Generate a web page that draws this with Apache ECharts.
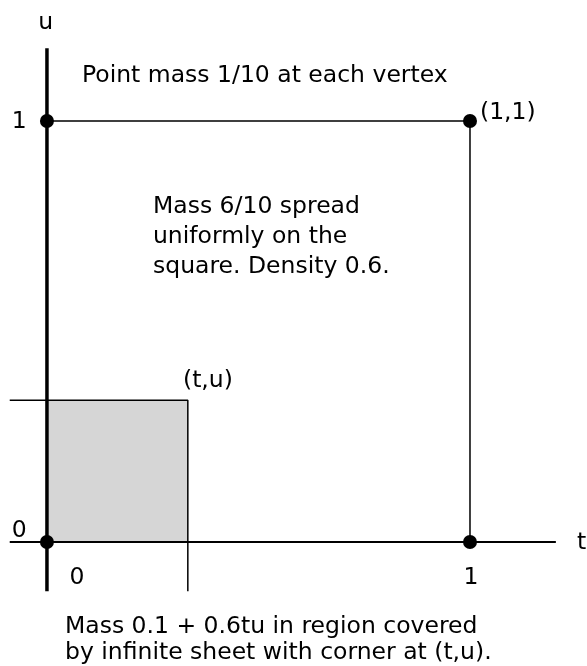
<!doctype html>
<html lang="en">
<head>
	<meta charset="UTF-8">
	<title>Mass on the unit square</title>
	<script src="https://cdn.jsdelivr.net/npm/echarts@6/dist/echarts.min.js"></script>
	<style>
		html, body { margin: 0; padding: 0; background: #fff; }
		#main { width: 587px; height: 666px; }
	</style>
</head>
<body>
	<div id="main"></div>
	<script type="text/javascript">
		// unit square corners, each holds point mass 1/10
		var vertices = [[0, 0], [1, 0], [0, 1], [1, 1]];
		var squareEdges = [[0, 1], [1, 1], [1, 0]];
		// the corner (t,u) of the shaded region
		var corner = [0.333, 0.337];
		var tAxisLine = [[-0.088, 0], [1.203, 0]];
		var uAxisLine = [[0, -0.117], [0, 1.173]];
		var cornerLines = [[-0.088, 0.337], [0.333, 0.337], [0.333, -0.117]];

		// text notes: [x, y, text, align]
		var labels = [
			[-0.003, 1.233, 'u', 'center'],
			[-0.0656, 0.999, '1', 'center'],
			[-0.0656, 0.026, '0', 'center'],
			[0.0709, -0.0855, '0', 'center'],
			[1.0024, -0.0843, '1', 'center'],
			[1.253, -0.002, 't', 'left'],
			[1.0236, 1.019, '(1,1)', 'left'],
			[0.3215, 0.3824, '(t,u)', 'left'],
			[0.0827, 1.1069, 'Point mass 1/10 at each vertex', 'left'],
			[0.2506, 0.7957, 'Mass 6/10 spread', 'left'],
			[0.2506, 0.7244, 'uniformly on the', 'left'],
			[0.2506, 0.6532, 'square. Density 0.6.', 'left'],
			[0.0426, -0.2013, 'Mass 0.1 + 0.6tu in region covered', 'left'],
			[0.0426, -0.2637, 'by infinite sheet with corner at (t,u).', 'left']
		];

		var myChart = echarts.init(document.getElementById('main'));

		option = {
			animation: false,
			grid: { left: 0, right: 0, top: 0, bottom: 0 },
			xAxis: { type: 'value', min: -0.111, max: 1.2766, show: false },
			yAxis: { type: 'value', min: -0.2945, max: 1.2874, show: false },
			series: [
				{
					type: 'custom',
					silent: true,
					z: 1,
					renderItem: function (params, api) {
						var p0 = api.coord([0, 0]);
						var p1 = api.coord([api.value(0), api.value(1)]);
						return {
							type: 'rect',
							shape: { x: p0[0], y: p1[1], width: p1[0] - p0[0], height: p0[1] - p1[1] },
							style: { fill: '#d6d6d6' }
						};
					},
					data: [corner]
				},
				{
					type: 'line', data: cornerLines, symbol: 'none', z: 2,
					lineStyle: { color: '#000', width: 1.5 }
				},
				{
					type: 'line', data: squareEdges, symbol: 'none', z: 2,
					lineStyle: { color: '#000', width: 1.5 }
				},
				{
					type: 'line', data: tAxisLine, symbol: 'none', z: 3,
					lineStyle: { color: '#000', width: 2 }
				},
				{
					type: 'line', data: uAxisLine, symbol: 'none', z: 3,
					lineStyle: { color: '#000', width: 3.5 }
				},
				{
					type: 'scatter', data: vertices, symbolSize: 14, z: 4,
					itemStyle: { color: '#000', opacity: 1 }
				}
			]
		};
		myChart.setOption(option);

		// place the text notes through the axes' scales
		myChart.setOption({
			graphic: labels.map(function (d) {
				var p = myChart.convertToPixel({ gridIndex: 0 }, [d[0], d[1]]);
				return {
					type: 'text',
					x: p[0],
					y: p[1],
					z: 10,
					style: {
						text: d[2],
						fill: '#000',
						fontSize: 23.5,
						fontFamily: 'DejaVu Sans',
						align: d[3],
						verticalAlign: 'middle'
					}
				};
			})
		});
	</script>
</body>
</html>
